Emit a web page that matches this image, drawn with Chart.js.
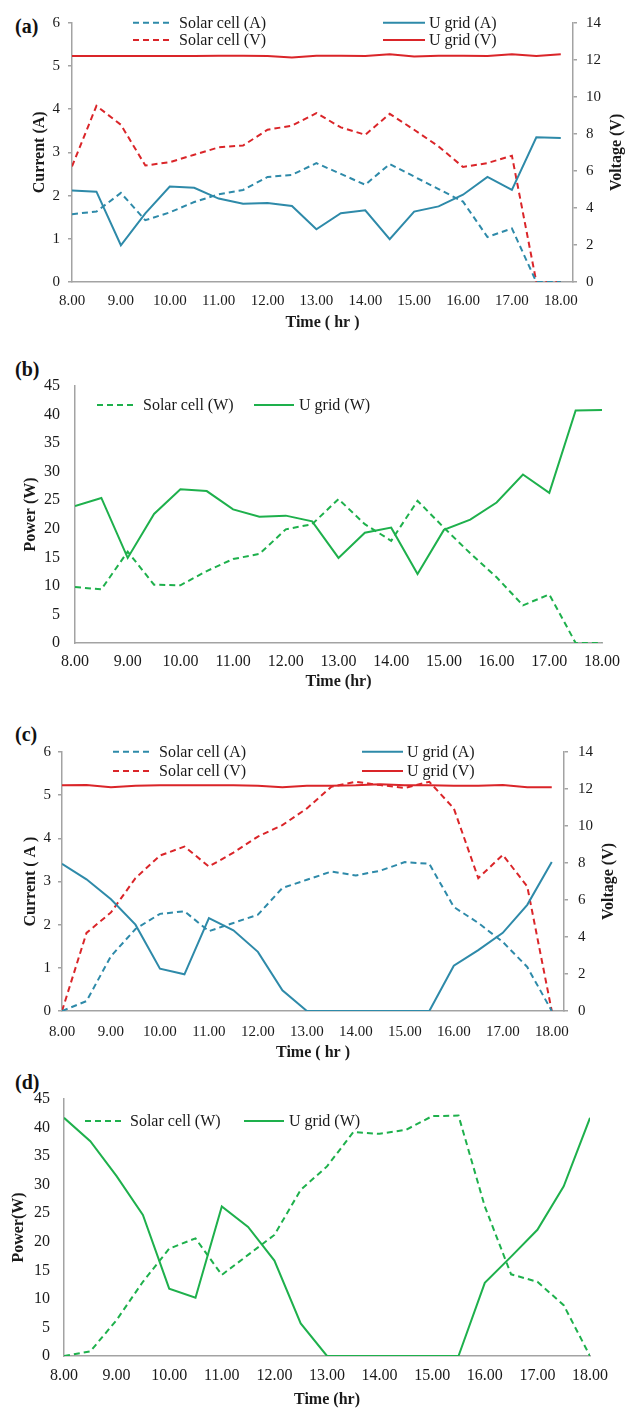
<!DOCTYPE html>
<html>
<head>
<meta charset="utf-8">
<script src="https://cdn.jsdelivr.net/npm/chart.js@4.4.1/dist/chart.umd.min.js"></script>
<style>
html,body{margin:0;padding:0;background:#fff;}
body{width:633px;height:1408px;position:relative;overflow:hidden;font-family:"Liberation Serif","Times New Roman",serif;}
canvas{position:absolute;left:0;}
.tag{position:absolute;font-weight:bold;font-size:20px;line-height:20px;color:#111;font-family:"Liberation Serif","Times New Roman",serif;}
</style>
</head>
<body>
<div class="tag" style="left:15px;top:16px">(a)</div>
<div class="tag" style="left:15px;top:359px">(b)</div>
<div class="tag" style="left:15px;top:724px">(c)</div>
<div class="tag" style="left:15px;top:1072px">(d)</div>
<canvas id="ca" width="633" height="335" style="top:0px;width:633px;height:335px"></canvas>
<canvas id="cb" width="633" height="355" style="top:340px;width:633px;height:355px"></canvas>
<canvas id="cc" width="633" height="370" style="top:695px;width:633px;height:370px"></canvas>
<canvas id="cd" width="633" height="343" style="top:1065px;width:633px;height:343px"></canvas>
<script>
// ---------- data ----------
const times = [8.0,8.5,9.0,9.5,10.0,10.5,11.0,11.5,12.0,12.5,13.0,13.5,14.0,14.5,15.0,15.5,16.0,16.5,17.0,17.5,18.0];
const xTickValues = [8,9,10,11,12,13,14,15,16,17,18];
const xTickLabels = ['8.00','9.00','10.00','11.00','12.00','13.00','14.00','15.00','16.00','17.00','18.00'];

// (a)
const aSolarA = [1.57,1.63,2.06,1.43,1.61,1.85,2.03,2.13,2.43,2.48,2.75,2.50,2.25,2.73,2.44,2.15,1.86,1.04,1.24,0,0];
const aGridA  = [2.12,2.09,0.85,1.59,2.21,2.18,1.93,1.81,1.83,1.76,1.22,1.59,1.66,0.99,1.63,1.75,2.02,2.43,2.13,3.35,3.33];
const aSolarV = [6.24,9.51,8.49,6.29,6.47,6.87,7.27,7.37,8.22,8.44,9.12,8.35,7.95,9.08,8.22,7.32,6.21,6.42,6.82,0,0];
const aGridV  = [12.2,12.2,12.2,12.2,12.2,12.2,12.21,12.22,12.2,12.12,12.21,12.21,12.2,12.3,12.18,12.22,12.22,12.2,12.3,12.2,12.3];
// (b)
const bSolarW = [9.8,9.4,16.0,10.2,10.1,12.6,14.7,15.6,19.9,20.8,25.2,20.8,17.9,24.9,20.2,15.7,11.5,6.6,8.5,0,0];
const bGridW  = [24.0,25.4,14.9,22.6,26.9,26.6,23.4,22.1,22.3,21.3,14.9,19.3,20.2,12.1,19.8,21.6,24.6,29.5,26.3,40.7,40.8];
// (c)
const cSolarA = [0,0.23,1.27,1.90,2.25,2.31,1.85,2.04,2.23,2.85,3.04,3.23,3.14,3.25,3.45,3.41,2.41,2.04,1.60,1.02,0];
const cGridA  = [3.41,3.05,2.59,2.00,0.98,0.85,2.15,1.87,1.37,0.48,0,0,0,0,0,0,1.05,1.41,1.81,2.46,3.45];
const cSolarV = [0,4.22,5.33,7.18,8.40,8.89,7.81,8.56,9.43,10.05,10.95,12.12,12.39,12.21,12.06,12.39,10.95,7.18,8.44,6.73,0];
const cGridV  = [12.2,12.22,12.1,12.18,12.2,12.2,12.2,12.2,12.18,12.1,12.18,12.18,12.2,12.25,12.2,12.2,12.18,12.18,12.22,12.1,12.1];
// (d)
const dSolarW = [0,0.8,6.3,13.0,18.8,20.6,14.2,17.7,21.2,29.1,33.2,39.2,38.9,39.6,42.0,42.1,26.2,14.3,13.0,8.9,0];
const dGridW  = [41.7,37.6,31.5,24.7,11.8,10.2,26.2,22.6,16.7,5.7,0,0,0,0,0,0,12.8,17.4,22.1,29.7,41.7];

// ---------- styling ----------
const FONT = "'Liberation Serif','Times New Roman',serif";
const BLUE = '#2E8AA9', RED = '#DA2529', GREEN = '#1EB04C', AXIS = '#A3A3A3', TXT = '#1a1a1a';
const DASH = [6,4];

function series(label, values, color, dashed, axis) {
  return {
    label: label,
    data: times.map((t, i) => ({x: t, y: values[i]})),
    borderColor: color, backgroundColor: color,
    borderWidth: 2, borderDash: dashed ? DASH : [],
    pointRadius: 0, pointHoverRadius: 0, tension: 0, fill: false,
    yAxisID: axis || 'y'
  };
}

const legendPlugin = {
  id: 'customLegend',
  afterDraw(chart, args, o) {
    if (!o || !o.items) return;
    const ctx = chart.ctx;
    ctx.save();
    o.items.forEach(it => {
      const ds = chart.data.datasets[it.i];
      ctx.strokeStyle = ds.borderColor;
      ctx.lineWidth = 2;
      ctx.setLineDash(ds.borderDash || []);
      ctx.beginPath(); ctx.moveTo(it.x0, it.y); ctx.lineTo(it.x1, it.y); ctx.stroke();
      ctx.setLineDash([]);
      ctx.fillStyle = TXT;
      ctx.font = '16px ' + FONT;
      ctx.textBaseline = 'middle'; ctx.textAlign = 'left';
      ctx.fillText(ds.label, it.tx, it.y + 1);
    });
    ctx.restore();
  }
};

const rightTitlePlugin = {
  id: 'rightTitle',
  afterDraw(chart, args, o) {
    if (!o || !o.text) return;
    const ctx = chart.ctx, ca = chart.chartArea;
    ctx.save();
    ctx.translate(o.x, (ca.top + ca.bottom) / 2);
    ctx.rotate(-Math.PI / 2);
    ctx.fillStyle = TXT;
    ctx.font = 'bold 16px ' + FONT;
    ctx.textAlign = 'center'; ctx.textBaseline = 'middle';
    ctx.fillText(o.text, 0, 0);
    ctx.restore();
  }
};

function xScale(p) {
  return {
    type: 'linear', position: 'bottom', min: 8, max: p.max,
    afterBuildTicks: s => { s.ticks = xTickValues.map(v => ({value: v})); },
    ticks: { callback: v => xTickLabels[xTickValues.indexOf(v)], color: TXT,
             font: {family: FONT, size: p.fs}, padding: p.pad, maxRotation: 0, autoSkip: false, includeBounds: false },
    grid: { display: false, drawTicks: false },
    border: { display: true, color: AXIS, width: 1.5 },
    title: { display: true, text: p.title, color: TXT,
             font: {family: FONT, size: 16, weight: 'bold', lineHeight: 1}, padding: {top: 0, bottom: p.tpad} },
    afterFit: s => { s.height = p.h; }
  };
}

function yScale(p) {
  return {
    type: 'linear', position: p.pos, min: 0, max: p.max,
    afterBuildTicks: s => { s.ticks = p.ticks.map(v => ({value: v})); },
    ticks: { color: TXT, font: {family: FONT, size: p.fs}, padding: p.pad, autoSkip: false },
    grid: p.marks
      ? { display: true, drawOnChartArea: false, drawTicks: true, tickLength: 4, color: AXIS, tickColor: AXIS, lineWidth: 1.5, tickWidth: 1.5 }
      : { display: false, drawTicks: false },
    border: { display: true, color: AXIS, width: 1.5 },
    title: p.title
      ? { display: true, text: p.title, color: TXT, font: {family: FONT, size: 16, weight: 'bold', lineHeight: 1}, padding: {top: p.tpad, bottom: 0} }
      : { display: false },
    afterFit: s => { s.width = p.w; }
  };
}

function baseOptions(p) {
  return {
    responsive: false, animation: false, devicePixelRatio: 1,
    layout: { padding: { top: p.top, left: 0, right: p.right || 0, bottom: 0 } },
    plugins: { legend: { display: false }, tooltip: { enabled: false },
               customLegend: { items: p.legend }, rightTitle: p.rightTitle || {} },
    scales: p.scales
  };
}

const ampTicks = [0,1,2,3,4,5,6];
const voltTicks = [0,2,4,6,8,10,12,14];
const powTicks = [0,5,10,15,20,25,30,35,40,45];

// (a)
new Chart(document.getElementById('ca'), {
  type: 'line',
  data: { datasets: [
    series('Solar cell (A)', aSolarA, BLUE, true, 'y'),
    series('U grid (A)', aGridA, BLUE, false, 'y'),
    series('Solar cell (V)', aSolarV, RED, true, 'y1'),
    series('U grid (V)', aGridV, RED, false, 'y1')
  ]},
  options: baseOptions({
    top: 22.7,
    legend: [
      {i:0, x0:133, x1:172, tx:179, y:22.7},
      {i:1, x0:383, x1:425, tx:429, y:22.7},
      {i:2, x0:133, x1:172, tx:179, y:40},
      {i:3, x0:383, x1:425, tx:429, y:40}
    ],
    rightTitle: { text: 'Voltage (V)', x: 617 },
    scales: {
      x: xScale({max: 18.25, fs: 15, pad: 10, title: 'Time ( hr )', tpad: 4, h: 53}),
      y: yScale({pos: 'left', max: 6, ticks: ampTicks, fs: 15, pad: 8, marks: true, title: 'Current (A)', tpad: 32, w: 72}),
      y1: yScale({pos: 'right', max: 14, ticks: voltTicks, fs: 15, pad: 9, marks: true, w: 60})
    }
  }),
  plugins: [legendPlugin, rightTitlePlugin]
});

// (b)
new Chart(document.getElementById('cb'), {
  type: 'line',
  data: { datasets: [
    series('Solar cell (W)', bSolarW, GREEN, true, 'y'),
    series('U grid (W)', bGridW, GREEN, false, 'y')
  ]},
  options: baseOptions({
    top: 46, right: 31,
    legend: [
      {i:0, x0:97, x1:136, tx:143, y:65},
      {i:1, x0:254, x1:294, tx:299, y:65}
    ],
    scales: {
      x: xScale({max: 18, fs: 16, pad: 9, title: 'Time (hr)', tpad: 5, h: 52}),
      y: yScale({pos: 'left', max: 45, ticks: powTicks, fs: 16, pad: 15, marks: false, title: 'Power (W)', tpad: 23, w: 75})
    }
  }),
  plugins: [legendPlugin, rightTitlePlugin]
});

// (c)
new Chart(document.getElementById('cc'), {
  type: 'line',
  data: { datasets: [
    series('Solar cell (A)', cSolarA, BLUE, true, 'y'),
    series('U grid (A)', cGridA, BLUE, false, 'y'),
    series('Solar cell (V)', cSolarV, RED, true, 'y1'),
    series('U grid (V)', cGridV, RED, false, 'y1')
  ]},
  options: baseOptions({
    top: 57,
    legend: [
      {i:0, x0:113, x1:152, tx:159, y:56.7},
      {i:1, x0:362, x1:403, tx:407, y:56.7},
      {i:2, x0:113, x1:152, tx:159, y:76},
      {i:3, x0:362, x1:403, tx:407, y:76}
    ],
    rightTitle: { text: 'Voltage (V)', x: 609 },
    scales: {
      x: xScale({max: 18.25, fs: 15, pad: 12, title: 'Time ( hr )', tpad: 4, h: 54}),
      y: yScale({pos: 'left', max: 6, ticks: ampTicks, fs: 15, pad: 7, marks: true, title: 'Current ( A )', tpad: 23, w: 62}),
      y1: yScale({pos: 'right', max: 14, ticks: voltTicks, fs: 15, pad: 10, marks: true, w: 69})
    }
  }),
  plugins: [legendPlugin, rightTitlePlugin]
});

// (d)
new Chart(document.getElementById('cd'), {
  type: 'line',
  data: { datasets: [
    series('Solar cell (W)', dSolarW, GREEN, true, 'y'),
    series('U grid (W)', dGridW, GREEN, false, 'y')
  ]},
  options: baseOptions({
    top: 34, right: 43,
    legend: [
      {i:0, x0:85, x1:124, tx:130, y:56},
      {i:1, x0:244, x1:284, tx:289, y:56}
    ],
    scales: {
      x: xScale({max: 18, fs: 16, pad: 10, title: 'Time (hr)', tpad: 0, h: 52}),
      y: yScale({pos: 'left', max: 45, ticks: powTicks, fs: 16, pad: 14, marks: false, title: 'Power(W)', tpad: 11, w: 64})
    }
  }),
  plugins: [legendPlugin, rightTitlePlugin]
});
</script>
</body>
</html>
